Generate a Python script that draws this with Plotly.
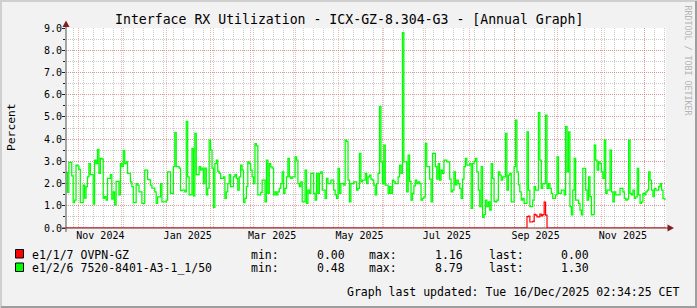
import plotly.graph_objects as go
import pandas as pd

# ---------------- data (daily averages) ----------------
start_date = "2024-10-23"
end_date = "2025-12-16 02:34"

green_name = "e1/2/6 7520-8401-A3-1_1/50"
green_vals = [
    2.5, 1.6, 2.95, 2.95, 2.35, 1.14, 1.26, 2.83, 2.8, 2.64,
    1.14, 1.14, 1.93, 1.35, 1.86, 2.3, 2.9, 2.4, 2.4, 1.08,
    3.06, 2.9, 3.54, 2.46, 3.13, 3.1, 1.33, 1.41, 1.26, 2.23,
    2.23, 2.4, 1.3, 1.63, 1.04, 2.1, 2.1, 1.49, 2.9, 2.76,
    3.48, 2.9, 2.98, 2.46, 2.46, 2.08, 1.86, 1.14, 1.14, 2.0,
    1.93, 1.63, 1.63, 1.11, 1.11, 2.6, 2.6, 2.19, 2.17, 1.93,
    1.79, 1.79, 1.63, 1.11, 1.4, 1.4, 2.0, 1.18, 1.18, 1.18,
    1.26, 2.53, 2.53, 1.56, 1.56, 2.76, 4.29, 2.76, 2.76, 2.7,
    1.68, 1.7, 1.7, 1.63, 4.8, 2.3, 1.49, 1.5, 3.58, 1.45,
    4.26, 2.4, 2.4, 2.76, 2.6, 2.7, 2.0, 2.7, 1.49, 1.8,
    3.96, 3.5, 2.7, 0.93, 2.9, 3.06, 2.55, 2.46, 2.23, 2.23,
    2.3, 1.33, 1.63, 2.0, 2.4, 1.86, 1.86, 2.3, 2.4, 2.23,
    1.7, 2.3, 2.83, 2.6, 1.14, 1.33, 1.86, 2.98, 2.9,
    2.6, 2.3, 2.0, 3.8, 3.7, 1.49, 1.49, 1.6, 2.16, 2.16, 1.18,
    3.06, 1.56, 2.9, 2.75, 2.7, 1.49, 1.63, 1.49, 1.63, 1.78,
    2.0, 2.53, 1.56, 1.78, 2.3, 3.13, 2.3, 2.23, 2.3, 2.3,
    3.2, 3.06, 2.0, 1.86, 2.08, 1.18, 1.18, 2.6, 1.11, 1.7,
    1.56, 2.46, 2.46, 1.56, 1.26, 2.46, 1.56, 2.46, 2.53, 1.7,
    1.7, 1.33, 2.23, 2.0, 2.0, 2.16, 2.16, 1.7, 1.49, 1.33,
    2.68, 1.56, 2.0, 2.0, 1.93, 3.96, 3.9, 2.16, 1.18, 2.0,
    2.0, 2.08, 2.08, 1.7, 1.78, 3.36, 2.08, 2.16, 2.16, 2.46,
    2.0, 2.3, 2.38, 2.2, 2.16, 1.93, 1.49, 2.0, 2.46, 5.46,
    2.98, 2.0, 3.73, 1.93, 1.93, 1.56, 1.86, 1.56, 2.16, 2.08,
    2.0, 2.0, 2.3, 2.83, 2.46, 8.79, 2.98, 2.98, 1.63, 3.28,
    2.1, 1.26, 1.56, 1.9, 2.16, 2.0, 2.08, 2.0, 1.26, 1.33,
    1.4, 3.81, 2.76, 2.76, 2.2, 1.18, 3.36, 3.36, 2.76, 2.2,
    2.9, 2.16, 2.6, 2.46, 3.06, 3.06, 2.98, 2.98,
    2.2, 1.63, 1.7, 2.53, 1.94, 2.16, 2.0, 1.78, 1.33, 2.2, 2.76, 3.13,
    2.83, 2.83, 2.9, 0.88, 2.9, 3.0, 3.13, 2.53, 1.7, 0.96,
    2.76, 0.48, 0.6, 1.26, 0.96, 1.18, 0.81, 2.9, 2.23, 1.2,
    1.18, 1.26, 2.53, 2.38, 2.16, 2.3, 2.3, 4.26, 1.7, 2.38,
    2.46, 1.18, 1.18, 2.76, 4.86, 2.53, 1.94, 1.63, 1.26, 1.33,
    1.11, 1.11, 4.33, 1.7, 0.96, 0.96, 1.26, 1.86, 1.7, 1.7,
    5.19, 3.06, 1.78, 2.0, 2.0, 5.08, 1.78, 2.0, 1.78, 1.56,
    1.33, 1.33, 1.49, 3.2, 1.56, 1.56, 1.7, 1.7, 1.49, 4.56,
    2.53, 4.33, 0.96, 0.59, 1.7, 3.13, 1.26, 1.26, 1.11, 0.81,
    0.59, 2.68, 2.68, 1.7, 1.26, 2.3, 1.41, 0.59, 0.6, 3.73,
    3.06, 2.6, 2.98, 2.9, 2.53, 2.23, 3.96, 1.56, 1.7, 1.7,
    3.5, 1.63, 1.18, 1.63, 1.49, 1.49, 1.49, 1.78, 1.78, 1.63,
    1.33, 1.26, 1.3, 3.96, 1.56, 1.49, 1.7, 1.33, 1.4, 2.68,
    1.49, 1.11, 1.18, 1.56, 1.49, 1.63, 1.7, 2.53, 2.16, 1.7,
    1.41, 1.78, 1.7, 1.7, 1.86, 2.0, 1.7, 1.33, 1.30,
]

red_name = "e1/1/7 OVPN-GZ"
red_active_start = "2025-09-10"      # traffic seen only for a short period
red_active_vals = [0.51, 0.54, 0.27, 0.27, 0.3, 0.61, 0.58, 0.5, 0.5,
                   0.63, 0.55, 0.6, 1.16, 0.58]
red_idle_value = 0.0

y_ticks = [0, 1, 2, 3, 4, 5, 6, 7, 8, 9]
x_label_months = ["2024-11", "2025-01", "2025-03", "2025-05",
                  "2025-07", "2025-09", "2025-11"]

title_text = "Interface RX Utilization - ICX-GZ-8.304-G3 - [Annual Graph]"
updated_text = "Graph last updated: Tue 16/Dec/2025 02:34:25 CET"

# ---------------- series construction ----------------
days = pd.date_range(start_date, periods=len(green_vals) + 1, freq="D")
green_y = green_vals + [green_vals[-1]]
red_vals = [red_idle_value] * len(green_vals)
off = (pd.Timestamp(red_active_start) - pd.Timestamp(start_date)).days
for i, v in enumerate(red_active_vals):
    red_vals[off + i] = v
red_y = red_vals + [red_vals[-1]]

# ---------------- geometry helpers (pixels -> paper) ----------------
W, H = 697, 308
L, R, T, B = 66, 666, 28, 228
def px(x):
    return (x - L) / (R - L)
def py(y):
    return (B - y) / (B - T)

MONO = "DejaVu Sans Mono"
BG = "#F2F2F2"
MGRID = "rgba(230,90,90,0.45)"
GRID = "rgba(150,150,150,0.5)"
ARROW = "rgb(128,31,31)"
AXIS = "#1F1F1F"

fig = go.Figure()
fig.add_trace(go.Scatter(x=days, y=red_y, mode="lines", line_shape="hv",
                         line=dict(color="#FF0000", width=1.2), name=red_name,
                         showlegend=False, hoverinfo="skip"))
fig.add_trace(go.Scatter(x=days, y=green_y, mode="lines", line_shape="hv",
                         line=dict(color="#00FF00", width=1.25), name=green_name,
                         showlegend=False, hoverinfo="skip"))
# invisible trace to drive the label axis
fig.add_trace(go.Scatter(x=[days[0]], y=[0], xaxis="x2", mode="markers",
                         marker=dict(opacity=0), showlegend=False, hoverinfo="skip"))

month_starts = pd.date_range("2024-11-01", "2025-12-01", freq="MS")
week_lines = pd.date_range("2024-10-28", end_date, freq="7D")
label_pos = [pd.Timestamp(m + "-01") + pd.Timedelta(days=15) for m in x_label_months]
label_txt = [pd.Timestamp(m + "-01").strftime("%b %Y") for m in x_label_months]

fig.update_layout(
    width=W, height=H,
    margin=dict(l=L, r=W - R, t=T, b=H - B, pad=0),
    paper_bgcolor=BG, plot_bgcolor="#FFFFFF",
    font=dict(family=MONO, color="#000000", size=10),
    showlegend=False,
    xaxis=dict(type="date", range=[start_date, end_date],
               tickmode="array", tickvals=month_starts, showticklabels=False,
               showgrid=True, gridcolor=MGRID, griddash="1px,1px", gridwidth=1,
               minor=dict(tickmode="array", tickvals=week_lines, showgrid=True,
                          gridcolor=GRID, griddash="1px,1px", gridwidth=1),
               showline=False, zeroline=False, ticks=""),
    xaxis2=dict(type="date", range=[start_date, end_date], overlaying="x",
                anchor="y", side="bottom", tickmode="array", tickvals=label_pos,
                ticktext=label_txt, showgrid=False, showline=False, zeroline=False,
                ticks="", tickfont=dict(family=MONO, size=10)),
    yaxis=dict(range=[0, 9], tickmode="array", tickvals=y_ticks,
               ticktext=[f"{v:.1f}" for v in y_ticks],
               showgrid=True, gridcolor=MGRID, griddash="1px,1px", gridwidth=1,
               minor=dict(dtick=0.5, showgrid=True, gridcolor=GRID,
                          griddash="1px,1px", ticks="outside", ticklen=2,
                          tickcolor=AXIS),
               ticks="outside", ticklen=3, tickcolor=AXIS,
               ticklabelstandoff=-2,
               showline=False, zeroline=False,
               tickfont=dict(family=MONO, size=10)),
)

shapes = []
# 3D frame of the image
shapes.append(dict(type="rect", xref="paper", yref="paper", x0=px(0), x1=px(W),
                   y0=py(0), y1=py(2), fillcolor="#CFCFCF", line=dict(width=0)))
shapes.append(dict(type="rect", xref="paper", yref="paper", x0=px(0), x1=px(2),
                   y0=py(0), y1=py(H), fillcolor="#CFCFCF", line=dict(width=0)))
shapes.append(dict(type="rect", xref="paper", yref="paper", x0=px(1), x1=px(W),
                   y0=py(H - 2), y1=py(H), fillcolor="#9E9E9E", line=dict(width=0)))
shapes.append(dict(type="rect", xref="paper", yref="paper", x0=px(W - 2), x1=px(W),
                   y0=py(1), y1=py(H), fillcolor="#9E9E9E", line=dict(width=0)))
# axes
shapes.append(dict(type="line", xref="paper", yref="paper", x0=px(66), x1=px(66),
                   y0=py(232), y1=py(24), line=dict(color="#505050", width=1), layer="above"))
shapes.append(dict(type="line", xref="paper", yref="paper", x0=px(62), x1=px(670),
                   y0=py(228), y1=py(228), line=dict(color=ARROW, width=1.2), layer="above"))
# arrows
shapes.append(dict(type="path", xref="paper", yref="paper",
                   path=f"M {px(62.5)} {py(27)} L {px(69.5)} {py(27)} L {px(66)} {py(20.5)} Z",
                   fillcolor=ARROW, line=dict(width=0), layer="above"))
shapes.append(dict(type="path", xref="paper", yref="paper",
                   path=f"M {px(667.5)} {py(224.5)} L {px(667.5)} {py(231.5)} L {px(674)} {py(228)} Z",
                   fillcolor=ARROW, line=dict(width=0), layer="above"))
# legend swatches
for ytop, col in [(249.5, "#FF0000"), (263, "#00FF00")]:
    shapes.append(dict(type="rect", xref="paper", yref="paper", x0=px(15.5), x1=px(23.5),
                       y0=py(ytop + 8.5), y1=py(ytop), fillcolor=col,
                       line=dict(color="#000000", width=1)))
fig.update_layout(shapes=shapes)

ann = []
def text(x, y, s, size=11.5, xanchor="left", color="#000000", angle=0):
    ann.append(dict(xref="paper", yref="paper", x=px(x), y=py(y), text=s,
                    showarrow=False, xanchor=xanchor, yanchor="middle",
                    textangle=angle, font=dict(family=MONO, size=size, color=color)))

text(348.5, 19, title_text, size=13.2, xanchor="center")
text(11, 127, "Percent", size=11.3, xanchor="center", angle=-90)
text(687.5, 60, "RRDTOOL / TOBI OETIKER", size=8.3, xanchor="center",
     color="#B4B4B4", angle=90)

rows = [(254.5, red_name, red_vals), (268, green_name, green_vals)]
for y, name, vals in rows:
    text(30, y, name)
    text(249, y, "min:")
    text(347, y, f"{min(vals):.2f}", xanchor="right")
    text(366.5, y, "max:")
    text(465, y, f"{max(vals):.2f}", xanchor="right")
    text(486.5, y, "last:")
    text(591, y, f"{vals[-1]:.2f}", xanchor="right")
text(681, 292, updated_text, xanchor="right")
fig.update_layout(annotations=ann)

fig.write_html("out.html")
